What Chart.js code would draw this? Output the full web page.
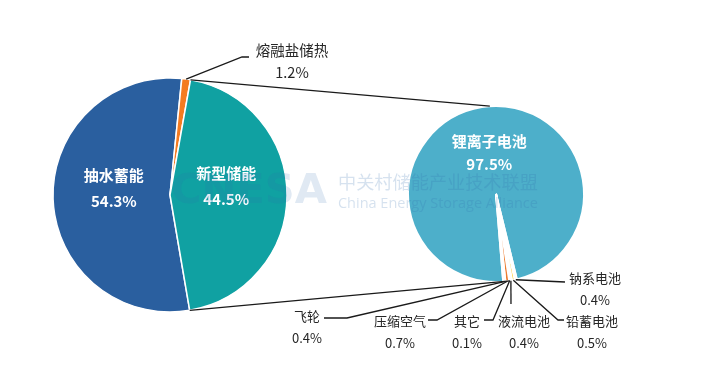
<!DOCTYPE html>
<html>
<head>
<meta charset="utf-8">
<script src="https://cdn.jsdelivr.net/npm/chart.js@4.4.1/dist/chart.umd.min.js"></script>
<style>
  html, body { margin: 0; padding: 0; background: #fff; }
  #wrap { position: relative; width: 703px; height: 384px; }
  #wrap canvas { position: absolute; left: 0; top: 0; }
</style>
</head>
<body>
<div id="wrap">
  <canvas id="mainPie" width="703" height="384"></canvas>
  <canvas id="subPie" width="703" height="384"></canvas>
</div>
<script>
// 储能累计装机结构（%）
const mainLabels = ['抽水蓄能', '熔融盐储热', '新型储能'];
const mainValues = [54.3, 1.2, 44.5];
const mainColors = ['#2A5F9F', '#F47B20', '#10A1A2'];

// 新型储能细分（%）
const subLabels = ['锂离子电池', '钠系电池', '铅蓄电池', '液流电池', '其它', '压缩空气', '飞轮'];
const subValues = [97.5, 0.4, 0.5, 0.4, 0.1, 0.7, 0.4];
const subColors = ['#4DAFCA', '#FFE699', '#FFC000', '#FFF2CC', '#F8CBAD', '#ED7D31', '#FBE5D6'];

const FONT = "'Noto Sans CJK SC', 'Noto Sans', sans-serif";
const pct = v => v.toFixed(1) + '%';

// 外部标注的位置（引线折点 + 文字中心）
const calloutLayout = {
  '熔融盐储热': { path: [[242, 57], [249, 57]], text: [292, 50], size: 14.5 },
  '钠系电池': { path: [[565, 282]], text: [595, 278], size: 13 },
  '铅蓄电池': { path: [[558, 320], [564, 320]], text: [592, 321], size: 13 },
  '液流电池': { path: [[511, 304]], text: [524, 321], size: 13 },
  '其它': { path: [[493, 320], [484, 320]], text: [467, 321], size: 13 },
  '压缩空气': { path: [[437, 320], [428, 320]], text: [400, 321], size: 13 },
  '飞轮': { path: [[347, 318], [324, 318]], text: [307, 316], size: 13 },
};

function edgePoint(arc, angle, r) {
  return [arc.x + Math.cos(angle) * r, arc.y + Math.sin(angle) * r];
}

// 扇区内白色标签
const inLabels = {
  id: 'inLabels',
  afterDatasetsDraw(chart, args, opts) {
    const ctx = chart.ctx;
    const meta = chart.getDatasetMeta(0);
    const labels = chart.data.labels;
    const values = chart.data.datasets[0].data;
    ctx.save();
    ctx.fillStyle = '#fff';
    ctx.textAlign = 'center';
    ctx.textBaseline = 'middle';
    ctx.font = 'bold 15px ' + FONT;
    opts.indices.forEach(i => {
      const arc = meta.data[i];
      const mid = (arc.startAngle + arc.endAngle) / 2;
      const [cx, cy] = edgePoint(arc, mid, arc.outerRadius * opts.dist);
      const y0 = cy + opts.shiftY;
      ctx.fillText(labels[i], cx, y0 - opts.gap / 2);
      ctx.fillText(pct(values[i]), cx, y0 + opts.gap / 2);
    });
    ctx.restore();
  }
};

function drawCallout(ctx, start, name, value) {
  const lay = calloutLayout[name];
  ctx.beginPath();
  ctx.moveTo(start[0], start[1]);
  lay.path.forEach(p => ctx.lineTo(p[0], p[1]));
  ctx.stroke();
  ctx.fillStyle = '#262626';
  ctx.textAlign = 'center';
  ctx.textBaseline = 'middle';
  ctx.font = lay.size + 'px ' + FONT;
  ctx.fillText(name, lay.text[0], lay.text[1]);
  ctx.fillText(pct(value), lay.text[0], lay.text[1] + 22);
}

function fitText(ctx, text, weight, family, width) {
  ctx.font = weight + ' 20px ' + family;
  const w = ctx.measureText(text).width;
  ctx.font = weight + ' ' + (20 * width / w).toFixed(2) + 'px ' + family;
}

// 连接线、引线标注与水印
const pieOfPie = {
  id: 'pieOfPie',
  afterDraw(chart) {
    const ctx = chart.ctx;
    const main = mainChart.getDatasetMeta(0).data;
    const sub = chart.getDatasetMeta(0).data;
    const big = main[2];
    const subR = sub[0].outerRadius;
    ctx.save();
    ctx.strokeStyle = '#1a1a1a';
    ctx.lineWidth = 1.3;

    // 主饼与子饼之间的连接线
    const tipAngle = (sub[1].startAngle + sub[sub.length - 1].endAngle) / 2;
    const tip = edgePoint(sub[0], tipAngle, subR);
    const topStart = edgePoint(big, big.startAngle, big.outerRadius);
    const topEnd = edgePoint(sub[0], -Math.PI / 2 - 0.07, subR);
    const botStart = edgePoint(big, big.endAngle, big.outerRadius);
    ctx.beginPath();
    ctx.moveTo(topStart[0], topStart[1]);
    ctx.lineTo(topEnd[0], topEnd[1]);
    ctx.moveTo(botStart[0], botStart[1]);
    ctx.lineTo(tip[0], tip[1]);
    ctx.stroke();

    // 熔融盐储热引线
    const m1 = main[1];
    drawCallout(ctx, edgePoint(m1, (m1.startAngle + m1.endAngle) / 2, m1.outerRadius),
      mainLabels[1], mainValues[1]);

    // 子饼小扇区引线
    for (let i = 1; i < sub.length; i++) {
      const a = sub[i];
      drawCallout(ctx, edgePoint(a, (a.startAngle + a.endAngle) / 2, a.outerRadius),
        subLabels[i], subValues[i]);
    }

    // 水印
    ctx.textAlign = 'left';
    ctx.textBaseline = 'middle';
    ctx.fillStyle = 'rgba(50, 110, 175, 0.15)';
    fitText(ctx, 'CNESA', 'bold', 'DejaVu Sans', 156);
    ctx.fillText('CNESA', 171, 192);
    ctx.fillStyle = 'rgba(50, 110, 175, 0.2)';
    fitText(ctx, '中关村储能产业技术联盟', 'normal', FONT, 200);
    ctx.fillText('中关村储能产业技术联盟', 338, 182);
    fitText(ctx, 'China Energy Storage Alliance', 'normal', "'Open Sans'", 200);
    ctx.fillText('China Energy Storage Alliance', 338, 204);
    ctx.restore();
  }
};

const baseOptions = {
  responsive: false,
  animation: false,
  events: [],
  plugins: { legend: { display: false }, tooltip: { enabled: false } },
};

const mainChart = new Chart(document.getElementById('mainPie'), {
  type: 'pie',
  data: {
    labels: mainLabels,
    datasets: [{ data: mainValues, backgroundColor: mainColors, borderColor: '#fff', borderWidth: 1.5 }],
  },
  options: {
    ...baseOptions,
    rotation: 170.3,
    radius: 117,
    layout: { padding: { left: 40, right: 403, top: 65, bottom: 59 } },
    plugins: { ...baseOptions.plugins, inLabels: { indices: [0, 2], dist: 0.48, shiftY: -9, gap: 26 } },
  },
  plugins: [inLabels],
});

new Chart(document.getElementById('subPie'), {
  type: 'pie',
  data: {
    labels: subLabels,
    datasets: [{ data: subValues, backgroundColor: subColors, borderColor: '#fff', borderWidth: 2 }],
  },
  options: {
    ...baseOptions,
    rotation: 175.3,
    radius: 88,
    layout: { padding: { left: 396, right: 107, top: 94, bottom: 90 } },
    plugins: { ...baseOptions.plugins, inLabels: { indices: [0], dist: 0.48, shiftY: 0, gap: 23 } },
  },
  plugins: [inLabels, pieOfPie],
});
</script>
</body>
</html>
